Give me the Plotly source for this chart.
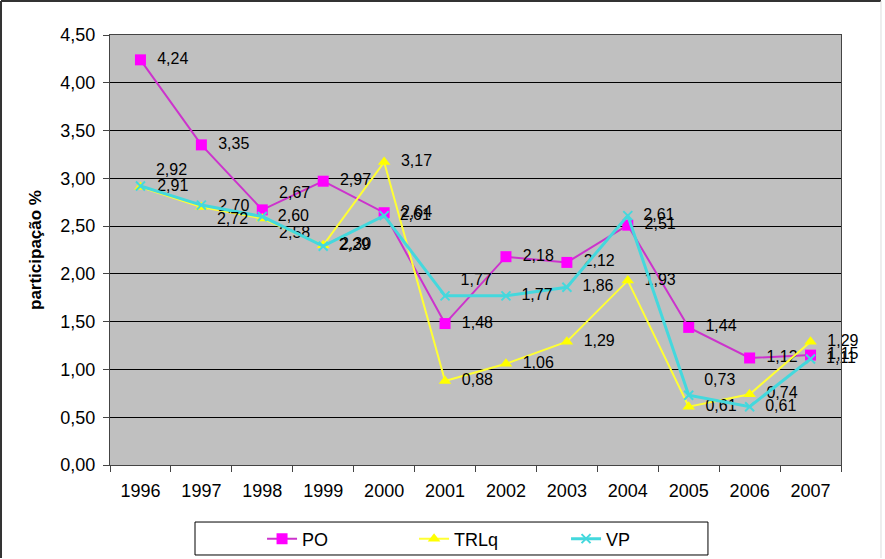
import plotly.graph_objects as go

years = ["1996", "1997", "1998", "1999", "2000", "2001", "2002", "2003", "2004", "2005", "2006", "2007"]
po = [4.24, 3.35, 2.67, 2.97, 2.64, 1.48, 2.18, 2.12, 2.51, 1.44, 1.12, 1.15]
trlq = [2.91, 2.70, 2.58, 2.30, 3.17, 0.88, 1.06, 1.29, 1.93, 0.61, 0.74, 1.29]
vp = [2.92, 2.72, 2.60, 2.29, 2.61, 1.77, 1.77, 1.86, 2.61, 0.73, 0.61, 1.11]

y_ticks = [0, 0.5, 1, 1.5, 2, 2.5, 3, 3.5, 4, 4.5]


def fmt(v):
    return "  " + f"{v:.2f}".replace(".", ",")


pos_po = ["middle right"] * 12
pos_po[2] = "top right"
pos_trlq = ["middle right"] * 12
pos_trlq[2] = "bottom right"
pos_vp = ["middle right"] * 12
pos_vp[0] = "top right"
pos_vp[1] = "bottom right"
pos_vp[5] = "top right"
pos_vp[9] = "top right"

FONT = "Liberation Sans, Arial, sans-serif"

fig = go.Figure()
fig.add_trace(go.Scatter(
    x=years, y=po, name="PO", mode="lines+markers+text", cliponaxis=False,
    line=dict(color="#CC33CC", width=2),
    marker=dict(symbol="square", size=11, color="#FF00FF"),
    text=[fmt(v) for v in po], textposition=pos_po,
    textfont=dict(family=FONT, size=16, color="black"),
))
fig.add_trace(go.Scatter(
    x=years, y=trlq, name="TRLq", mode="lines+markers+text", cliponaxis=False,
    line=dict(color="#FFFF33", width=2),
    marker=dict(symbol="triangle-up", size=11, color="#FFFF00"),
    text=[fmt(v) for v in trlq], textposition=pos_trlq,
    textfont=dict(family=FONT, size=16, color="black"),
))
fig.add_trace(go.Scatter(
    x=years, y=vp, name="VP", mode="lines+markers+text", cliponaxis=False,
    line=dict(color="#44D8DD", width=3),
    marker=dict(symbol="x-thin", size=9, color="#44D8DD", line=dict(color="#44D8DD", width=2)),
    text=[fmt(v) for v in vp], textposition=pos_vp,
    textfont=dict(family=FONT, size=16, color="black"),
))

fig.update_layout(
    width=885, height=559,
    margin=dict(l=110, r=44, t=35, b=94, autoexpand=False),
    paper_bgcolor="white",
    plot_bgcolor="#C0C0C0",
    font=dict(family=FONT, size=16, color="black"),
    showlegend=True,
    legend=dict(
        orientation="h", x=0.208, xanchor="left", y=-0.172, yanchor="middle",
        borderwidth=0, bgcolor="rgba(0,0,0,0)",
        font=dict(family=FONT, size=18, color="black"),
        entrywidth=107,
    ),
    shapes=[
        dict(type="rect", xref="paper", yref="paper", x0=0.1163, x1=0.818, y0=-0.2093, y1=-0.1326,
             line=dict(color="black", width=1), fillcolor="white", layer="below"),
        dict(type="line", xref="paper", yref="paper", x0=-0.1491, x1=-0.1491, y0=-0.2163, y1=1.0791,
             line=dict(color="#333333", width=2)),
        dict(type="line", xref="paper", yref="paper", x0=-0.1491, x1=1.0547, y0=1.0791, y1=1.0791,
             line=dict(color="#333333", width=2)),
        dict(type="line", xref="paper", yref="paper", x0=1.0547, x1=1.0547, y0=-0.2163, y1=1.0791,
             line=dict(color="#DDDDDD", width=1)),
    ],
)
fig.update_xaxes(
    type="category", range=[-0.5, len(years) - 0.5], autorange=False,
    showgrid=False, showline=True, linecolor="#444444", linewidth=1,
    mirror=True, ticks="outside", tickson="boundaries", ticklen=6, tickcolor="#444444",
    tickfont=dict(family=FONT, size=18), ticklabelstandoff=9,
)
fig.update_yaxes(
    range=[0, 4.5], autorange=False, tickvals=y_ticks, ticktext=[f"{v:.2f}".replace(".", ",") for v in y_ticks],
    showgrid=True, gridcolor="black", gridwidth=1, zeroline=False,
    showline=True, linecolor="#444444", linewidth=1, mirror=True,
    ticks="outside", ticklen=6, tickcolor="#444444",
    tickfont=dict(family=FONT, size=18), ticklabelstandoff=4,
    title=dict(text="<b>participação %</b>", font=dict(family=FONT, size=17), standoff=14),
)

fig.write_html("out.html")
